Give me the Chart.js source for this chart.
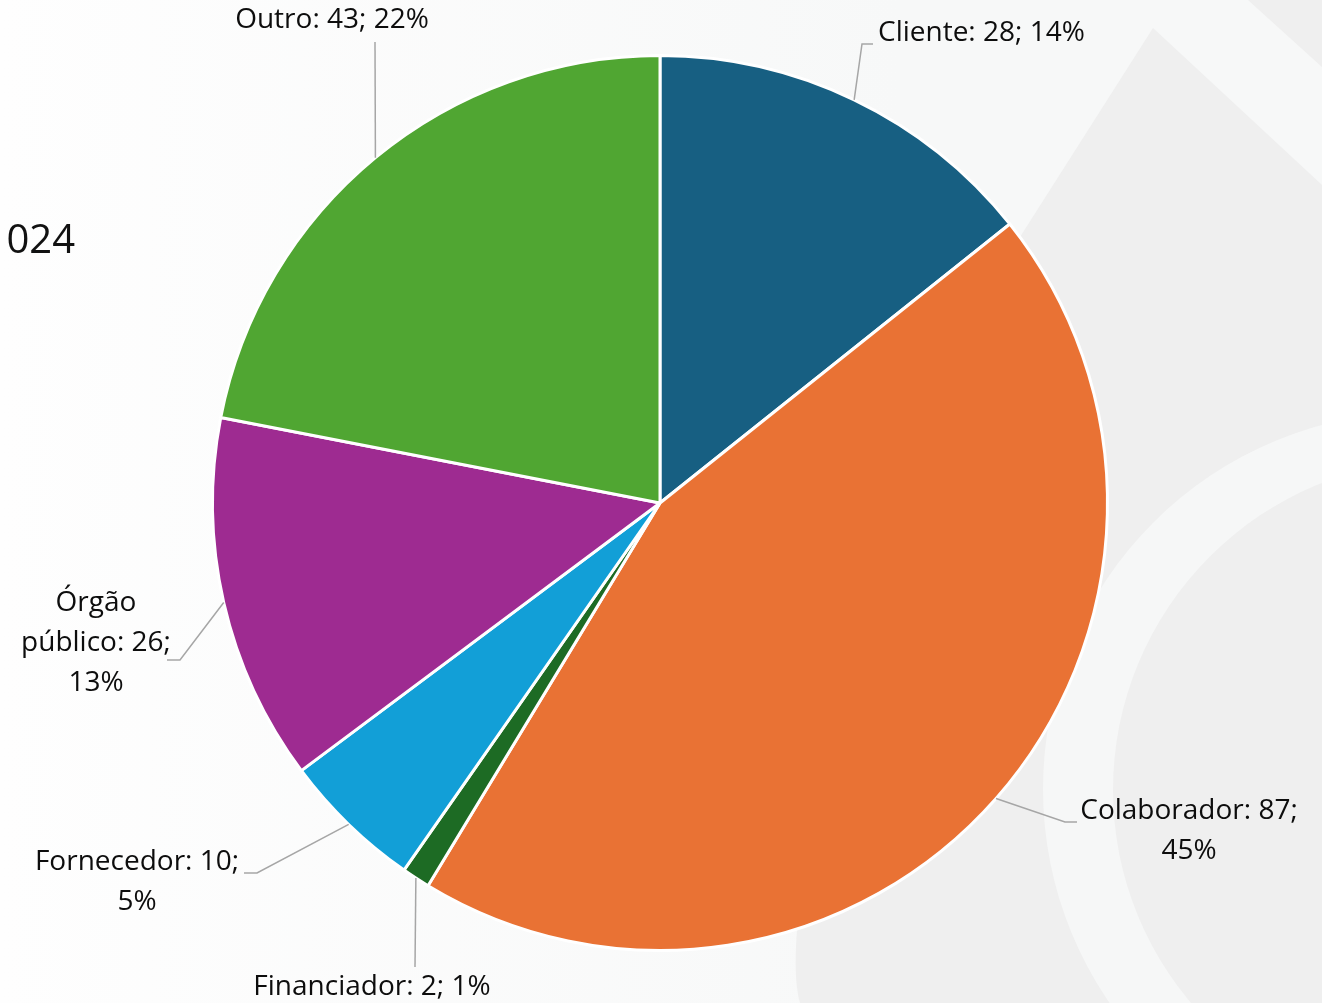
<!DOCTYPE html>
<html>
<head>
<meta charset="utf-8">
<script src="https://cdn.jsdelivr.net/npm/chart.js@4.4.1/dist/chart.umd.min.js"></script>
<style>
  html, body { margin: 0; padding: 0; background: #fdfdfd; }
  #pieChart { display: block; }
</style>
</head>
<body>
<canvas id="pieChart" width="1322" height="1003"></canvas>
<script>
const categories = ['Cliente', 'Colaborador', 'Financiador', 'Fornecedor', 'Órgão público', 'Outro'];
const counts = [28, 87, 2, 10, 26, 43];
const percents = [14, 45, 1, 5, 13, 22];
const sliceColors = ['#175f82', '#e97234', '#1d6b24', '#129fd7', '#9e2b91', '#50a632'];
const titleText = '024';

// where each label sits and how its leader line bends (layout only)
const labelLayout = [
  { x: 878, y: 33, align: 'left', wrap: 400, path: [[862, 44], [873, 44]] },
  { x: 1189, y: 811, align: 'center', wrap: 240, path: [[1065, 822], [1077, 822]] },
  { x: 372, y: 987, align: 'center', wrap: 400, path: [[415, 967]] },
  { x: 137, y: 862, align: 'center', wrap: 215, path: [[257, 873], [244, 873]] },
  { x: 96, y: 603, align: 'center', wrap: 165, path: [[180, 660], [167, 660]] },
  { x: 332, y: 20, align: 'center', wrap: 400, path: [[375, 42]] }
];

const FONT = '"Open Sans", sans-serif';

// decorative slide background
const backgroundPlugin = {
  id: 'slideBackground',
  beforeDraw(chart) {
    const ctx = chart.ctx;
    const w = chart.width, h = chart.height;
    ctx.save();
    const grad = ctx.createLinearGradient(0, 0, 900, 0);
    grad.addColorStop(0, '#fefefe');
    grad.addColorStop(1, '#f7f8f8');
    ctx.fillStyle = grad;
    ctx.fillRect(0, 0, w, h);

    ctx.fillStyle = '#efefef';
    ctx.beginPath();
    ctx.moveTo(1153, 28);
    ctx.lineTo(w, 185);
    ctx.lineTo(w, h);
    ctx.lineTo(800, h);
    ctx.bezierCurveTo(770, 900, 900, 430, 1020, 237);
    ctx.closePath();
    ctx.fill();

    ctx.beginPath();
    ctx.moveTo(1248, 0);
    ctx.lineTo(w, 0);
    ctx.lineTo(w, 67);
    ctx.closePath();
    ctx.fill();

    // light ring
    ctx.beginPath();
    ctx.arc(1420, 789, 377, 0, Math.PI * 2);
    ctx.fillStyle = '#f6f7f7';
    ctx.fill();
    ctx.beginPath();
    ctx.arc(1443, 790, 330, 0, Math.PI * 2);
    ctx.fillStyle = '#efefef';
    ctx.fill();

    ctx.fillStyle = '#111';
    ctx.font = '40px ' + FONT;
    ctx.textAlign = 'right';
    ctx.textBaseline = 'middle';
    ctx.fillText(titleText, 75, 242);
    ctx.restore();
  }
};

function wrapText(ctx, text, maxWidth) {
  const words = text.split(' ');
  const lines = [];
  let line = '';
  words.forEach((word) => {
    const test = line ? line + ' ' + word : word;
    if (line && ctx.measureText(test).width > maxWidth) {
      lines.push(line);
      line = word;
    } else {
      line = test;
    }
  });
  if (line) lines.push(line);
  return lines;
}

const labelPlugin = {
  id: 'sliceLabels',
  afterDatasetsDraw(chart) {
    const ctx = chart.ctx;
    const meta = chart.getDatasetMeta(0);
    ctx.save();
    ctx.font = '28px ' + FONT;
    ctx.textBaseline = 'middle';
    meta.data.forEach((arc, i) => {
      const lay = labelLayout[i];
      const mid = (arc.startAngle + arc.endAngle) / 2;
      const ex = arc.x + Math.cos(mid) * arc.outerRadius;
      const ey = arc.y + Math.sin(mid) * arc.outerRadius;

      ctx.strokeStyle = '#a6a6a6';
      ctx.lineWidth = 1.5;
      ctx.beginPath();
      ctx.moveTo(ex, ey);
      lay.path.forEach((p) => ctx.lineTo(p[0], p[1]));
      ctx.stroke();

      const text = categories[i] + ': ' + counts[i] + '; ' + percents[i] + '%';
      const lines = wrapText(ctx, text, lay.wrap);
      ctx.fillStyle = '#0d0d0d';
      ctx.textAlign = lay.align;
      lines.forEach((ln, k) => ctx.fillText(ln, lay.x, lay.y + k * 40));
    });
    ctx.restore();
  }
};

const pieData = {
  labels: categories,
  datasets: [{
    data: counts,
    backgroundColor: sliceColors,
    borderColor: '#ffffff',
    borderWidth: 3
  }]
};

const configPie = {
  type: 'pie',
  data: pieData,
  options: {
    responsive: false,
    animation: false,
    layout: {
      padding: { left: 211, right: 213, top: 54, bottom: 51 }
    },
    plugins: {
      legend: { display: false },
      tooltip: { enabled: false },
      title: { display: false }
    }
  },
  plugins: [backgroundPlugin, labelPlugin]
};

document.fonts.load('28px "Open Sans"').then(() => {
  const pieChart = new Chart(document.getElementById('pieChart'), configPie);
});
</script>
</body>
</html>
